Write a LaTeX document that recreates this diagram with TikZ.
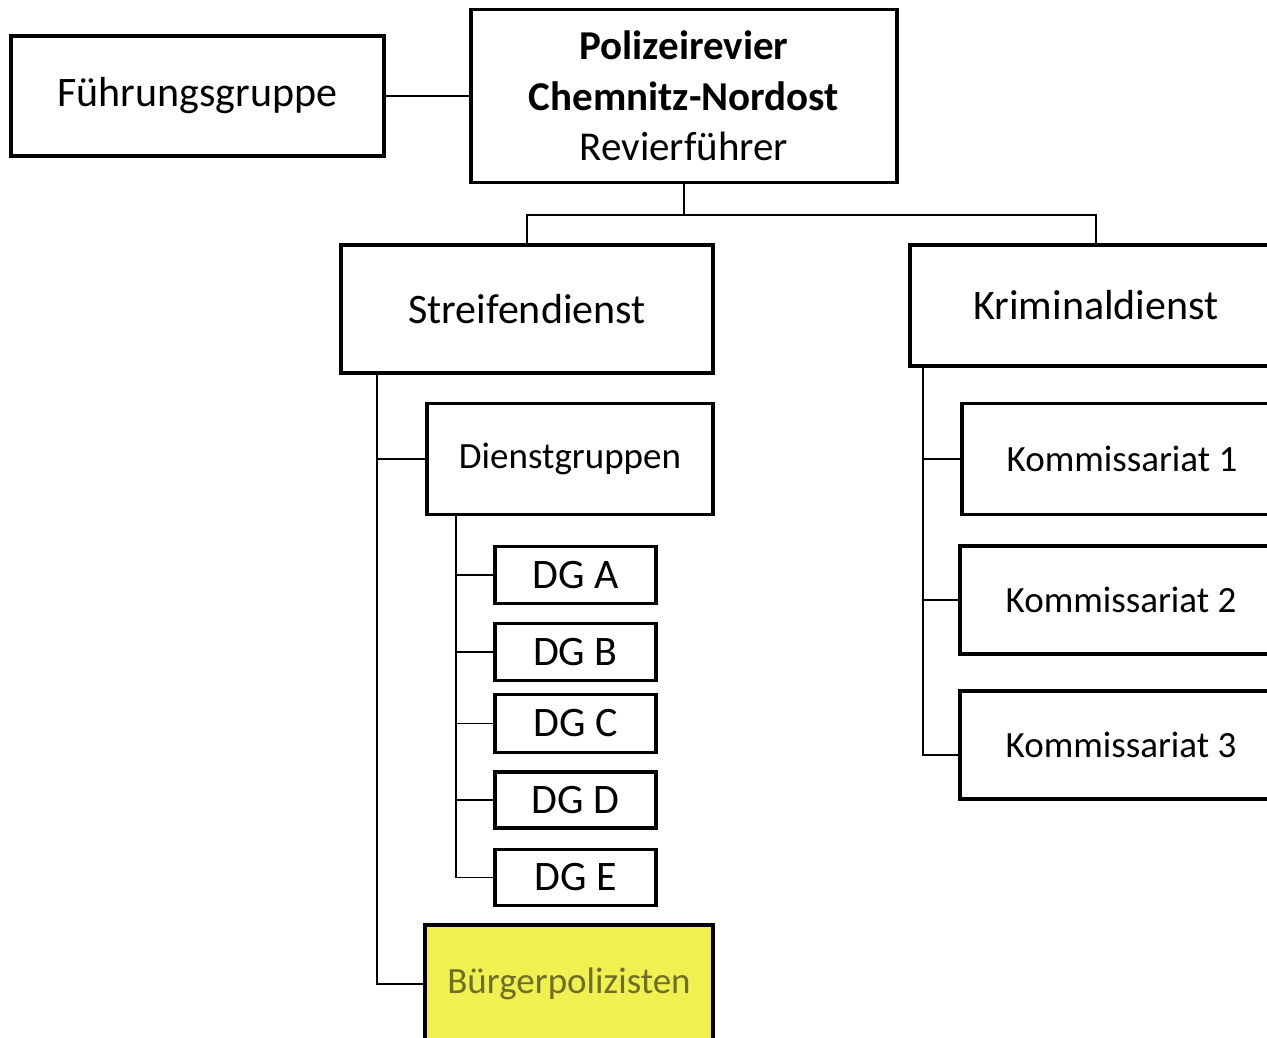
\documentclass[tikz,border=0pt]{standalone}
\usepackage{fontspec}
\setmainfont{Carlito}
\begin{document}
\begin{tikzpicture}[x=1pt,y=-1pt,
  box/.style={draw=black,line width=3.6pt,fill=white,inner sep=0pt,align=center,text=black},
  big/.style={font=\fontsize{42}{50}\selectfont},
  mid/.style={font=\fontsize{37}{44}\selectfont},
  conn/.style={line width=1.8pt,draw=black}]
\useasboundingbox (0,0) rectangle (1267,1038);
\clip (0,0) rectangle (1267,1038);
\fill[white] (0,0) rectangle (1267,1038);
% nodes
\node[box,big,minimum width=373pt,minimum height=120pt] (fg) at (197.5,96) {Führungsgruppe};
\node[box,minimum width=426pt,minimum height=173pt,font=\fontsize{41}{50.5}\selectfont] (pr) at (684,96) {\textbf{Polizeirevier}\\\textbf{Chemnitz-Nordost}\\Revierführer};
\node[box,big,minimum width=372pt,minimum height=128pt] (sd) at (527,309) {Streifendienst};
\node[box,big,minimum width=372pt,minimum height=121pt] (kd) at (1096,305.5) {Kriminaldienst};
\node[box,mid,minimum width=286pt,minimum height=111pt] (dg) at (570,459) {Dienstgruppen};
\node[box,big,minimum width=161pt,minimum height=57pt] (dga) at (575.5,575) {DG A};
\node[box,big,minimum width=161pt,minimum height=57pt] (dgb) at (575.5,652) {DG B};
\node[box,big,minimum width=161pt,minimum height=58pt] (dgc) at (575.5,723.5) {DG C};
\node[box,big,minimum width=161pt,minimum height=56pt] (dgd) at (575.5,800) {DG D};
\node[box,big,minimum width=161pt,minimum height=56pt] (dge) at (575.5,877.5) {DG E};
\node[box,mid,fill={rgb,255:red,240;green,240;blue,80},text={rgb,255:red,110;green,110;blue,40},minimum width=288pt,minimum height=118pt] (bp) at (569,984) {Bürgerpolizisten};
\node[box,mid,minimum width=320pt,minimum height=111pt] (k1) at (1122,459) {Kommissariat 1};
\node[box,mid,minimum width=322pt,minimum height=108pt] (k2) at (1121,600) {Kommissariat 2};
\node[box,mid,minimum width=322pt,minimum height=108pt] (k3) at (1121,745) {Kommissariat 3};
% connectors
\draw[conn] (fg.east) -- (fg.east -| pr.west);
\coordinate (j) at (684,215);
\draw[conn] (pr.south) -- (j);
\draw[conn] (sd.north) |- (j) -| (kd.north);
% Streifendienst branch
\coordinate (s0) at (377,373);
\draw[conn] (s0) |- (bp.west);
\draw[conn] (dg.west -| s0) -- (dg.west);
% Dienstgruppen branch
\coordinate (d0) at (456,514);
\draw[conn] (d0) |- (dge.west);
\foreach \n in {dga,dgb,dgc,dgd}{\draw[conn] (\n.west -| d0) -- (\n.west);}
% Kriminaldienst branch
\coordinate (k0) at (923,366);
\coordinate (k3c) at (k3.west |- 0,755);
\draw[conn] (k0) |- (k3c);
\draw[conn] (k1.west -| k0) -- (k1.west);
\draw[conn] (k2.west -| k0) -- (k2.west);
\end{tikzpicture}
\end{document}
